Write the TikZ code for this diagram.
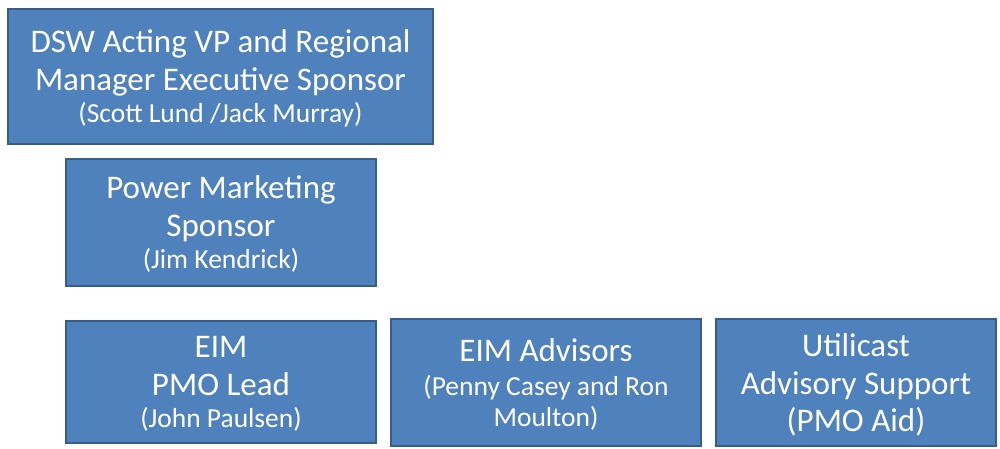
\documentclass[tikz,border=0pt]{standalone}
\usepackage{fontspec}
\setmainfont{Carlito}
\usepackage{tikz}
\usetikzlibrary{positioning}

\definecolor{boxfill}{RGB}{79,129,189}
\definecolor{boxline}{RGB}{56,93,138}

\newcommand{\bigtxt}{\fontsize{33}{38}\selectfont}
\newcommand{\smalltxt}{\fontsize{27.5}{32}\selectfont}

\begin{document}
\begin{tikzpicture}[x=1pt,y=-1pt,
	role box/.style={rectangle,draw=boxline,fill=boxfill,line width=2.5pt,
		text=white,align=center,inner sep=0pt,font=\bigtxt,text depth=-4pt}]

	\useasboundingbox (0,0) rectangle (1000,448);

	\node[role box, minimum width=425pt, minimum height=135pt] (exec) at (220.5,76.5)
		{DSW Acting VP and Regional\\Manager Executive Sponsor\\[-6pt]\smalltxt (Scott Lund /Jack Murray)};
	\node[role box, minimum width=310pt, minimum height=127pt] (pm) at (221,222.5)
		{Power Marketing\\Sponsor\\[-6pt]\smalltxt (Jim Kendrick)};

	\node[role box, minimum width=310pt, minimum height=122pt, text depth=-5pt] (pmo) at (221,382)
		{EIM\\PMO Lead\\[-6pt]\smalltxt (John Paulsen)};
	\node[role box, minimum width=310pt, minimum height=127pt] (adv) at (546,382.5)
		{EIM Advisors\\[-4pt]\smalltxt (Penny Casey and Ron\\[-7pt]\smalltxt Moulton)};
	\node[role box, minimum width=280pt, minimum height=127pt, text depth=-1pt] (util) at (856,382.5)
		{Utilicast\\Advisory Support\\[-1pt](PMO Aid)};
\end{tikzpicture}
\end{document}
